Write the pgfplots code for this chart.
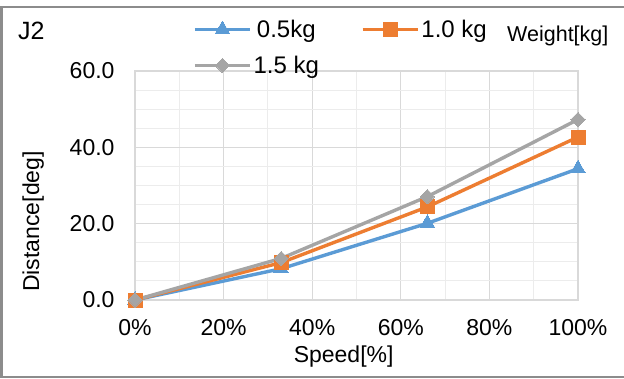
\documentclass[border=0pt]{standalone}
\usepackage{fontspec}
\setmainfont{Liberation Sans}
\usepackage{pgfplots}
\pgfplotsset{compat=1.18}
\definecolor{cblue}{HTML}{5B9BD5}
\definecolor{corange}{HTML}{ED7D31}
\definecolor{cgray}{HTML}{A5A5A5}
\definecolor{gridmaj}{HTML}{D9D9D9}
\definecolor{gridmin}{HTML}{ECECEC}
\definecolor{frame}{HTML}{8C8C8C}
\begin{document}
\begin{tikzpicture}[x=1bp,y=1bp]
\useasboundingbox (0,0) rectangle (624,378);
\fill[white] (0,0) rectangle (624,378);
\fill[frame] (0,0) rectangle (3.3,371.5);
\fill[frame] (0,369.5) rectangle (624,371.5);
\fill[frame] (0,0) rectangle (624,1.8);
\node[anchor=base west,inner sep=0pt,font=\fontsize{25bp}{30bp}\selectfont] at (18,339) {J2};
\node[anchor=base west,inner sep=0pt,font=\fontsize{21.5bp}{26bp}\selectfont] at (507,336.5) {Weight[kg]};
\begin{axis}[
  at={(135bp,78bp)}, anchor=south west,
  scale only axis, width=443bp, height=229bp,
  xmin=0, xmax=100, ymin=0, ymax=60,
  xtick={0,20,...,100}, xticklabels={0\%,20\%,40\%,60\%,80\%,100\%},
  minor xtick={10,30,50,70,90},
  ytick={0,20,40,60}, minor ytick={5,10,15,25,30,35,45,50,55},
  grid=both,
  major grid style={draw=gridmaj, line width=1.2bp},
  minor grid style={draw=gridmin, line width=1bp},
  axis line style={draw=gridmaj, line width=1.2bp},
  major tick length=0pt, minor tick length=0pt,
  tick style={draw=none},
  /pgf/number format/assume math mode=true,
  yticklabel={\pgfmathprintnumber[fixed,fixed zerofill,precision=1]{\tick}},
  tick label style={font=\fontsize{23bp}{27bp}\selectfont},
  xticklabel style={yshift=-16bp},
  yticklabel style={xshift=-17bp},
  xlabel={Speed[\%]}, ylabel={Distance[deg]},
  label style={font=\fontsize{23bp}{27bp}\selectfont},
  xlabel style={at={(axis description cs:0.471,-0.275)}, anchor=base},
  ylabel style={at={(axis description cs:-0.230,0.343)}, anchor=center, rotate=0},
  legend columns=2,
  legend style={draw=none, fill=none, inner sep=0pt,
    at={(axis description cs:0.131,1.232)}, anchor=north west,
    font=\fontsize{24bp}{28bp}\selectfont,
    /tikz/every even column/.append style={column sep=40bp},
    row sep=13bp,
    nodes={inner sep=2bp}},
  legend image code/.code={\draw[mark repeat=2,mark phase=2,#1] plot coordinates {(0bp,0bp)(27.5bp,0bp)(55bp,0bp)};},
  every axis plot/.append style={line width=3.4bp},
  clip=false,
]
\addplot[color=cblue, mark=triangle*, mark size=8.5bp, mark options={line width=0pt}] coordinates {(0,0) (33,8.2) (66,20.1) (100,34.4)};
\addlegendentry{0.5kg}
\addplot[color=corange, mark=square*, mark size=7bp, mark options={line width=0pt}] coordinates {(0,0) (33,9.8) (66,24.4) (100,42.7)};
\addlegendentry{1.0 kg}
\addplot[color=cgray, mark=square*, mark size=5bp, mark options={line width=0pt, rotate=45}] coordinates {(0,0) (33,10.9) (66,27.1) (100,47.3)};
\addlegendentry{1.5 kg}
\end{axis}
\end{tikzpicture}
\end{document}
